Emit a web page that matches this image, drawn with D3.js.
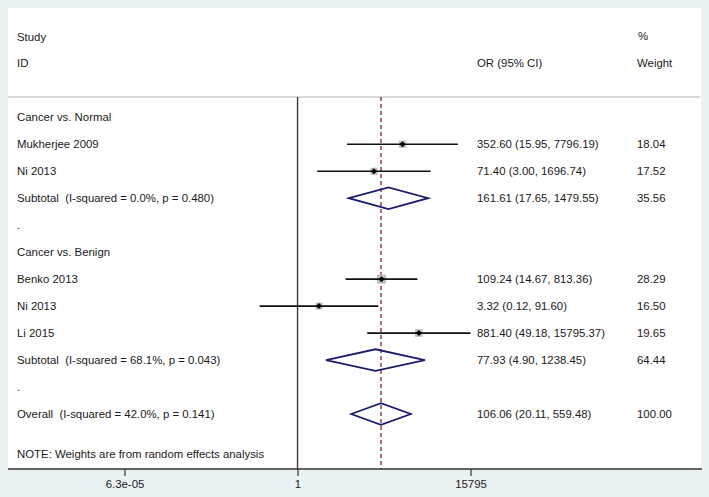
<!DOCTYPE html>
<html><head><meta charset="utf-8">
<script src="https://cdn.jsdelivr.net/npm/d3@7"></script>
<style>
html,body{margin:0;padding:0;background:#eaf2f3;}
text{font-family:"Liberation Sans",Arial,sans-serif;font-size:11.4px;fill:#1a1a1a;white-space:pre;}
</style></head>
<body>
<svg id="c" width="709" height="497"></svg>
<script>
// ---- data ----
const rowLabels = ["Cancer vs. Normal","Mukherjee 2009","Ni 2013","Subtotal  (I-squared = 0.0%, p = 0.480)",".","Cancer vs. Benign","Benko 2013","Ni 2013","Li 2015","Subtotal  (I-squared = 68.1%, p = 0.043)",".","Overall  (I-squared = 42.0%, p = 0.141)"];
const rowTypes  = ["group","study","study","pooled","blank","group","study","study","study","pooled","blank","pooled"];
const orValues  = [null,352.60,71.40,161.61,null,null,109.24,3.32,881.40,77.93,null,106.06];
const ciLower   = [null,15.95,3.00,17.65,null,null,14.67,0.12,49.18,4.90,null,20.11];
const ciUpper   = [null,7796.19,1696.74,1479.55,null,null,813.36,91.60,15795.37,1238.45,null,559.48];
const weights   = [null,18.04,17.52,35.56,null,null,28.29,16.50,19.65,64.44,null,100.00];
const tickValues = [6.3e-05, 1, 15795];
const tickLabels = ["6.3e-05","1","15795"];
const overallOR = 106.06;

const svg = d3.select("#c");
const panel = {x0:8, x1:701, y0:8, y1:469};
svg.append("rect").attr("x",panel.x0).attr("y",panel.y0).attr("width",panel.x1-panel.x0).attr("height",panel.y1-panel.y0).attr("fill","#ffffff");

const x = d3.scaleLog().domain([6.3e-05, 15795]).range([124.5, 470.5]);
const y = d3.scaleLinear().domain([0, 11]).range([117.3, 414.0]);

const colLabel = 17, colOR = 477, colW = 637;

// header
svg.append("text").attr("x",colLabel).attr("y",37).attr("dy","0.35em").text("Study");
svg.append("text").attr("x",colLabel).attr("y",63).attr("dy","0.35em").text("ID");
svg.append("text").attr("x",colOR).attr("y",63).attr("dy","0.35em").text("OR (95% CI)");
svg.append("text").attr("x",colW+1).attr("y",36).attr("dy","0.35em").text("%");
svg.append("text").attr("x",colW).attr("y",63).attr("dy","0.35em").text("Weight");

// separator
svg.append("line").attr("x1",panel.x0).attr("x2",panel.x1-1).attr("y1",97).attr("y2",97).attr("stroke","#b4b4b4").attr("stroke-width",1.2);

// null line
svg.append("line").attr("x1",x(1)).attr("x2",x(1)).attr("y1",97).attr("y2",panel.y1).attr("stroke","#3a3a3a").attr("stroke-width",1.4);
// overall dashed line
svg.append("line").attr("x1",x(overallOR)).attr("x2",x(overallOR)).attr("y1",97).attr("y2",panel.y1)
  .attr("stroke","#8e3040").attr("stroke-width",1.4).attr("stroke-dasharray","4,3");

const rows = rowLabels.map((l,i)=>({label:l,type:rowTypes[i],or:orValues[i],lo:ciLower[i],hi:ciUpper[i],w:weights[i],i}));

// labels
svg.selectAll("text.lab").data(rows).enter().append("text").attr("class","lab")
  .attr("x",colLabel).attr("y",d=>y(d.i)).attr("dy","0.35em").text(d=>d.label);

const fmt = d3.format(".2f");
const est = rows.filter(d=>d.or!=null);
svg.selectAll("text.orc").data(est).enter().append("text").attr("class","orc")
  .attr("x",colOR).attr("y",d=>y(d.i)).attr("dy","0.35em")
  .text(d=>`${fmt(d.or)} (${fmt(d.lo)}, ${fmt(d.hi)})`);
svg.selectAll("text.wc").data(est).enter().append("text").attr("class","wc")
  .attr("x",colW).attr("y",d=>y(d.i)).attr("dy","0.35em").text(d=>fmt(d.w));

// studies
const studies = rows.filter(d=>d.type==="study");
svg.selectAll("rect.box").data(studies).enter().append("rect").attr("class","box")
  .attr("x",d=>x(d.or)-0.85*Math.sqrt(d.w)).attr("y",d=>y(d.i)-0.85*Math.sqrt(d.w))
  .attr("width",d=>1.7*Math.sqrt(d.w)).attr("height",d=>1.7*Math.sqrt(d.w))
  .attr("fill","#bdbdbd");
svg.selectAll("line.ci").data(studies).enter().append("line").attr("class","ci")
  .attr("x1",d=>x(d.lo)).attr("x2",d=>x(d.hi)).attr("y1",d=>y(d.i)).attr("y2",d=>y(d.i))
  .attr("stroke","#111").attr("stroke-width",1.6);
svg.selectAll("path.pt").data(studies).enter().append("path").attr("class","pt")
  .attr("d",d=>{const cx=x(d.or),cy=y(d.i),r=3;return `M${cx},${cy-r}L${cx+r},${cy}L${cx},${cy+r}L${cx-r},${cy}Z`;})
  .attr("fill","#000");

// pooled diamonds
const pooled = rows.filter(d=>d.type==="pooled");
svg.selectAll("path.dia").data(pooled).enter().append("path").attr("class","dia")
  .attr("d",d=>{const cy=y(d.i),h=10.8;return `M${x(d.lo)},${cy}L${x(d.or)},${cy-h}L${x(d.hi)},${cy}L${x(d.or)},${cy+h}Z`;})
  .attr("fill","none").attr("stroke","#1c1c6e").attr("stroke-width",1.8);

// note
svg.append("text").attr("x",colLabel).attr("y",454).attr("dy","0.35em").text("NOTE: Weights are from random effects analysis");

// axis
const axis = d3.axisBottom(x).tickValues(tickValues).tickFormat((d,i)=>tickLabels[i]).tickSize(7).tickSizeOuter(0).tickPadding(4);
const g = svg.append("g").attr("transform",`translate(0,${panel.y1})`).call(axis);
g.select(".domain").remove();
g.selectAll(".tick line").attr("stroke","#333").attr("stroke-width",1.2);
g.selectAll(".tick text").style("font-family","Liberation Sans, Arial, sans-serif").style("font-size","11.4px").attr("fill","#1a1a1a");
svg.append("line").attr("x1",panel.x0).attr("x2",panel.x1+1).attr("y1",panel.y1).attr("y2",panel.y1).attr("stroke","#333").attr("stroke-width",1.6);
</script>
</body></html>
